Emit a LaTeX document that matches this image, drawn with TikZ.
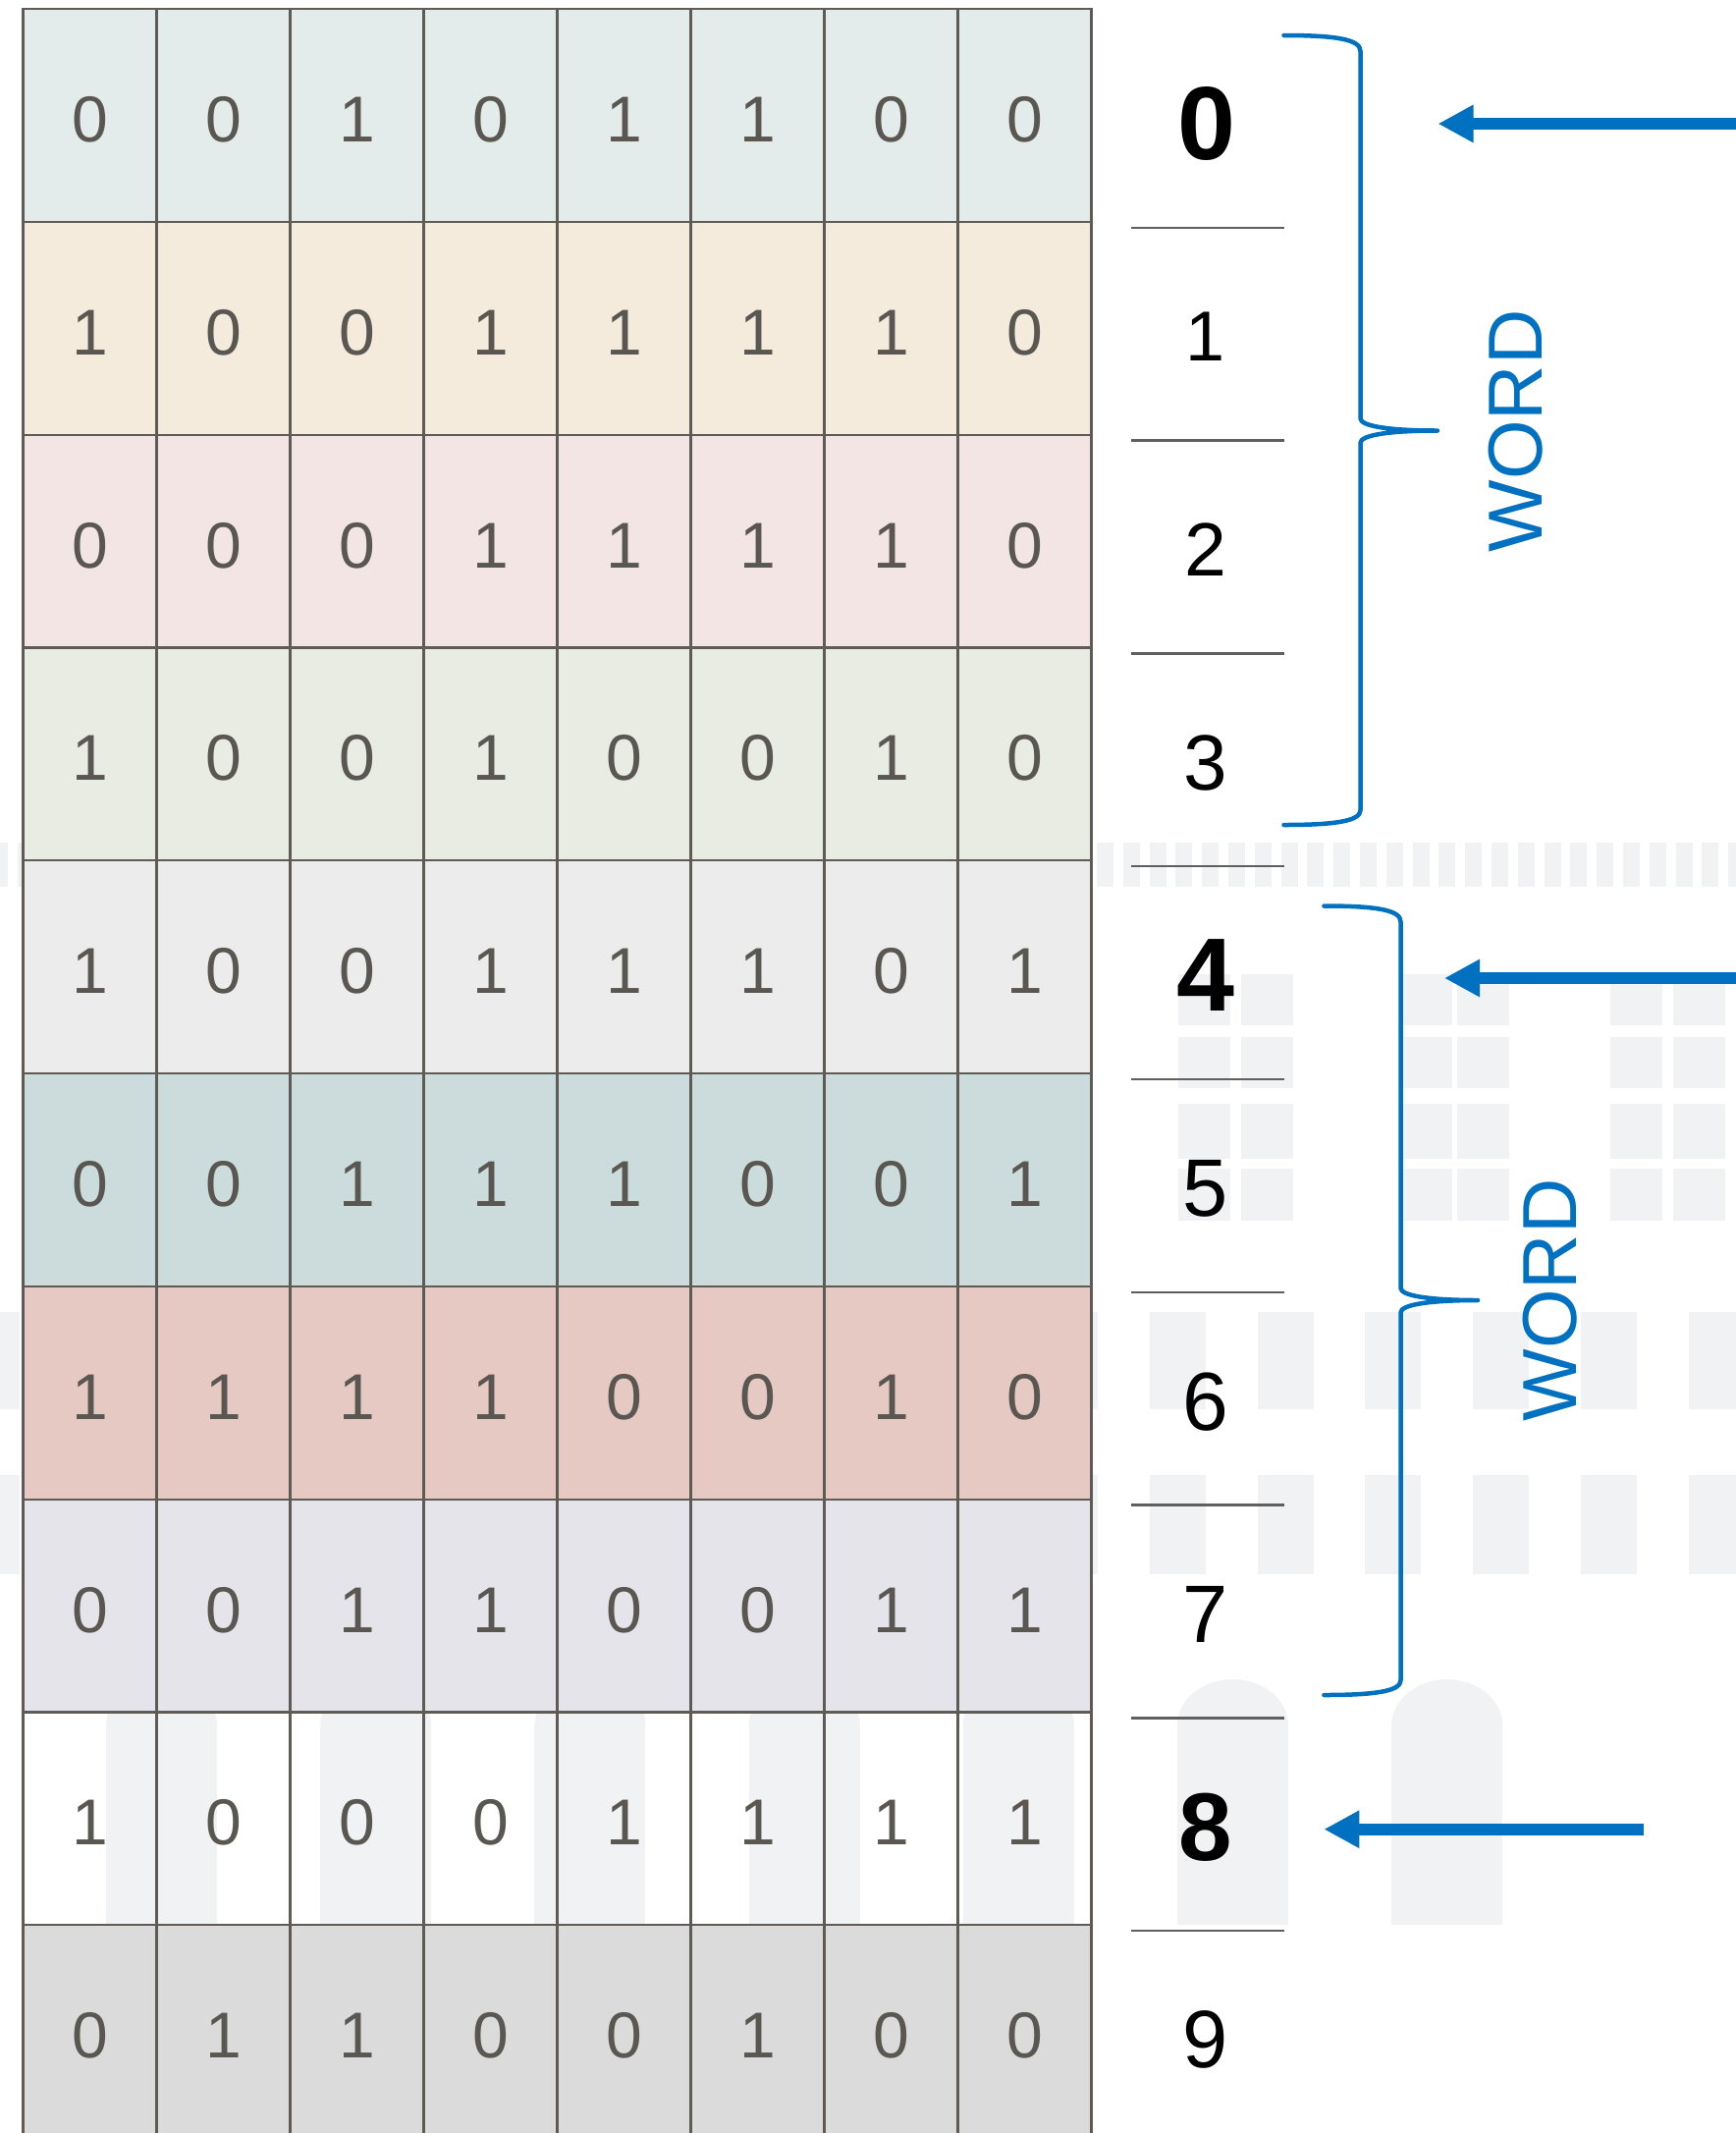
\documentclass[tikz,border=0pt]{standalone}
\usepackage{fontspec}
\setmainfont{Liberation Sans}
\usetikzlibrary{arrows.meta}
\definecolor{wm}{HTML}{F1F2F4}
\definecolor{gridline}{HTML}{5E5B57}
\definecolor{digit}{HTML}{5A5752}
\definecolor{bl}{HTML}{0070C0}
\definecolor{sepc}{HTML}{5F5F5F}
\definecolor{r0}{HTML}{E3ECEA}
\definecolor{r1}{HTML}{F4EBDD}
\definecolor{r2}{HTML}{F3E5E3}
\definecolor{r3}{HTML}{E8ECE3}
\definecolor{r4}{HTML}{ECECEC}
\definecolor{r5}{HTML}{CCDCDC}
\definecolor{r6}{HTML}{E7C9C3}
\definecolor{r7}{HTML}{E5E4EA}
\definecolor{r9}{HTML}{DBDBDB}
\begin{document}
\begin{tikzpicture}[x=1pt,y=-1pt,
  cell/.style={draw=gridline, line width=2.2pt, minimum width=136pt, minimum height=216.8pt,
    inner sep=0pt, outer sep=0pt, text=digit, font=\fontsize{66}{70}\selectfont,
    text height=54pt, text depth=0pt},
  lab/.style={text=black, inner sep=0pt, anchor=center},
  sepline/.style={draw=sepc, line width=2.4pt},
  brace/.style={draw=bl, line width=4.5pt, line cap=round, line join=round},
  arr/.style={draw=bl, line width=12pt, -{Triangle[length=36pt,width=36pt]}},
  wordlab/.style={text=bl, rotate=90, font=\fontsize{78}{80}\selectfont, inner sep=0pt},
  wmk/.style={fill=wm}]
\clip (0,0) rectangle (1768,2172);
\fill[white] (0,0) rectangle (1768,2172);
% faint background watermark
\foreach \i in {0,...,66} \fill[wmk] ({-8.6+26.8*\i},858) rectangle ++(17,45);
\foreach \x in {1200,1264,1426,1484,1640,1704}
  \foreach \y/\h in {992/52,1056/52,1124/56,1190/53}
    \fill[wmk] (\x,\y) rectangle ++(53,\h);
\foreach \i in {0,...,16} {
  \fill[wmk] ({-37+109.8*\i},1336) rectangle ++(57,99);
  \fill[wmk] ({-37+109.8*\i},1502) rectangle ++(57,101);
}
\foreach \i in {0,...,6} {
  \fill[wmk] ({108+218.2*\i},1757) rectangle ++(113,203);
  \fill[wmk] ({108+218.2*\i+56.5},1757) ellipse [x radius=56.5, y radius=47];
}
% memory grid
\foreach \r/\bits/\fc in {0/{0,0,1,0,1,1,0,0}/r0, 1/{1,0,0,1,1,1,1,0}/r1,
    2/{0,0,0,1,1,1,1,0}/r2, 3/{1,0,0,1,0,0,1,0}/r3, 4/{1,0,0,1,1,1,0,1}/r4,
    5/{0,0,1,1,1,0,0,1}/r5, 6/{1,1,1,1,0,0,1,0}/r6, 7/{0,0,1,1,0,0,1,1}/r7,
    8/{1,0,0,0,1,1,1,1}/none, 9/{0,1,1,0,0,1,0,0}/r9}
  \foreach \b [count=\c from 0] in \bits
    \node[cell, fill=\fc] (c-\r-\c) at ({23.5+136*(\c+0.5)},{9+216.8*(\r+0.5)}) {\b};
% address labels
\node[lab, font=\bfseries\fontsize{106}{106}\selectfont] (l0) at (1229,126.5) {0};
\node[lab, font=\fontsize{72}{72}\selectfont] (l1) at (1228,342.5) {1};
\node[lab, font=\fontsize{77}{77}\selectfont] (l2) at (1228,560) {2};
\node[lab, font=\fontsize{80}{80}\selectfont] (l3) at (1228,777) {3};
\node[lab, font=\bfseries\fontsize{106}{106}\selectfont] (l4) at (1228,993) {4};
\node[lab, font=\fontsize{83}{83}\selectfont] (l5) at (1228,1210.5) {5};
\node[lab, font=\fontsize{84}{84}\selectfont] (l6) at (1228,1427.5) {6};
\node[lab, font=\fontsize{83}{83}\selectfont] (l7) at (1228,1644) {7};
\node[lab, font=\bfseries\fontsize{98}{98}\selectfont] (l8) at (1228,1861) {8};
\node[lab, font=\fontsize{83}{83}\selectfont] (l9) at (1228,2077) {9};
\foreach \k in {1,...,9}
  \draw[sepline] (1152,{9+216.8*\k+6}) -- (1307.5,{9+216.8*\k+6});
% braces
\draw[brace] (1307.5,36) .. controls (1360,36) and (1385.5,40) .. (1385.5,52)
  -- (1385.5,426) .. controls (1385.5,434) and (1415,438.5) .. (1464,438.5)
  .. controls (1415,438.5) and (1385.5,443) .. (1385.5,451)
  -- (1385.5,825) .. controls (1385.5,836) and (1360,840) .. (1307.5,840);
\draw[brace] (1348.4,922.5) .. controls (1401,922.5) and (1426.5,926.5) .. (1426.5,938.5)
  -- (1426.5,1311.5) .. controls (1426.5,1319.5) and (1456,1324) .. (1505,1324)
  .. controls (1456,1324) and (1426.5,1328.5) .. (1426.5,1336.5)
  -- (1426.5,1711) .. controls (1426.5,1722) and (1401,1726) .. (1348.4,1726);
\node[wordlab] (w1) at (1544,439) {WORD};
\node[wordlab] (w2) at (1579,1324) {WORD};
% arrows
\coordinate (a1s) at (1780,126);
\coordinate (a1e) at (1464.5,126);
\coordinate (a2s) at (1780,996);
\coordinate (a2e) at (1471,996);
\coordinate (a3s) at (1674,1862.7);
\coordinate (a3e) at (1348.4,1862.7);
\draw[arr] (a1s) -- (a1e);
\draw[arr] (a2s) -- (a2e);
\draw[arr] (a3s) -- (a3e);
\end{tikzpicture}
\end{document}
